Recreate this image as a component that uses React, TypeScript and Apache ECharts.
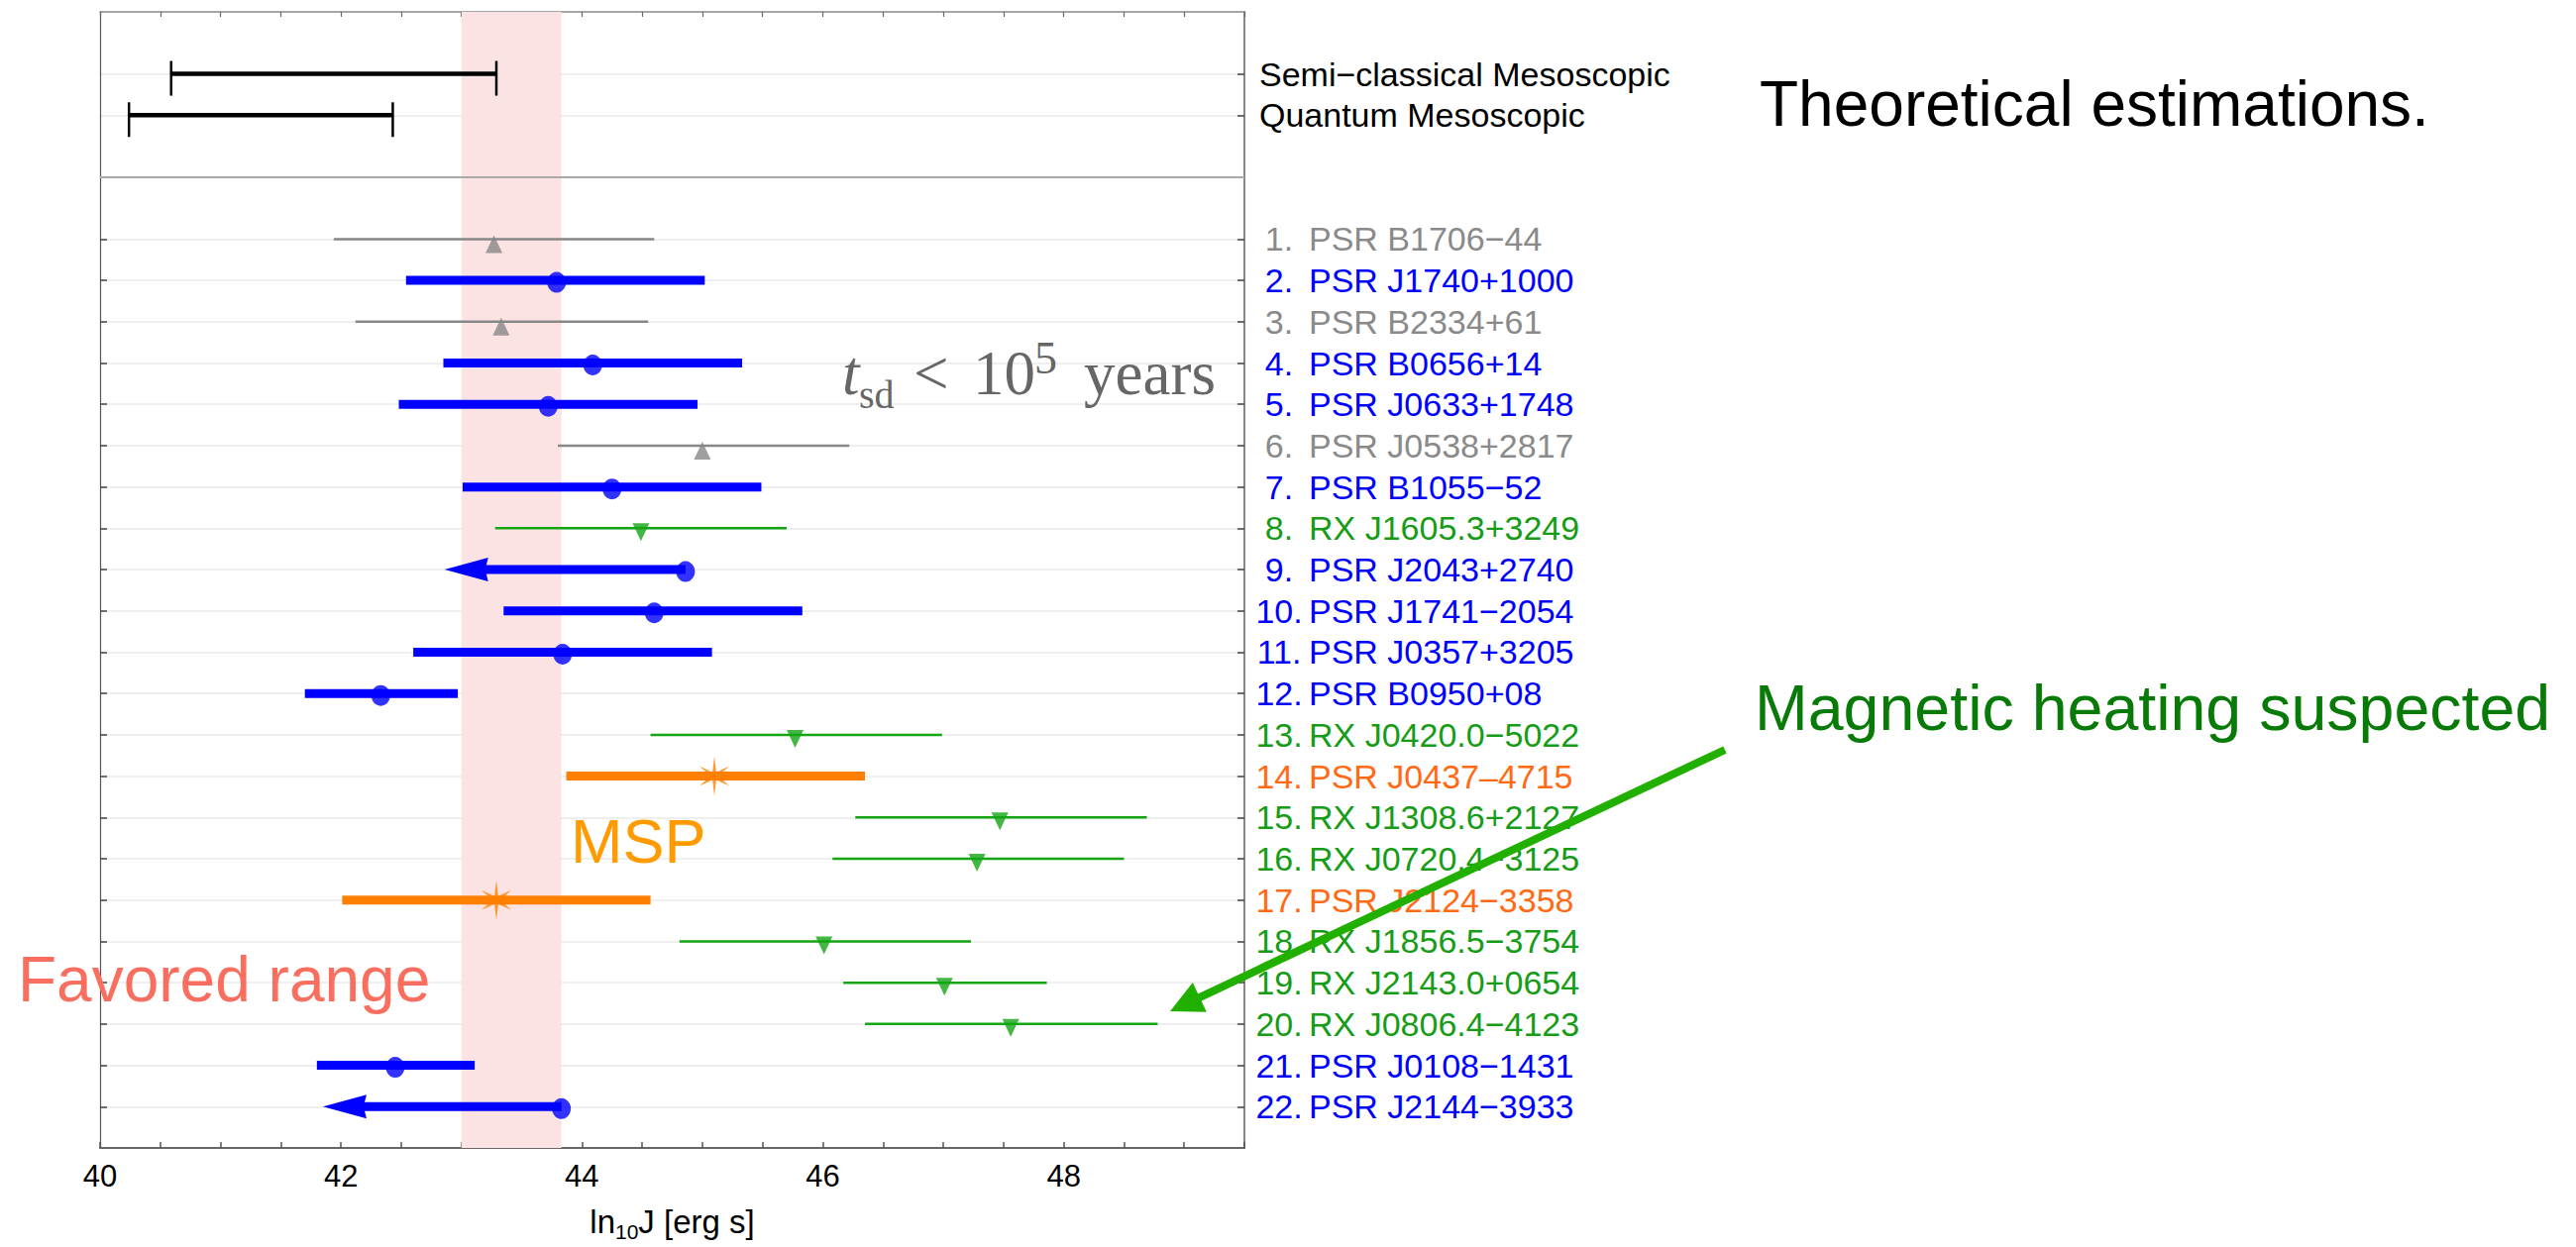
import React, { useEffect, useRef } from 'react';
import * as echarts from 'echarts';

// ---------------- data ----------------
const sourceNames = [
  'PSR B1706−44', 'PSR J1740+1000', 'PSR B2334+61', 'PSR B0656+14', 'PSR J0633+1748',
  'PSR J0538+2817', 'PSR B1055−52', 'RX J1605.3+3249', 'PSR J2043+2740', 'PSR J1741−2054',
  'PSR J0357+3205', 'PSR B0950+08', 'RX J0420.0−5022', 'PSR J0437–4715', 'RX J1308.6+2127',
  'RX J0720.4−3125', 'PSR J2124−3358', 'RX J1856.5−3754', 'RX J2143.0+0654', 'RX J0806.4−4123',
  'PSR J0108−1431', 'PSR J2144−3933',
];
const sourceGroups = [
  'gray', 'blue', 'gray', 'blue', 'blue', 'gray', 'blue', 'green', 'blue', 'blue',
  'blue', 'blue', 'green', 'orange', 'green', 'green', 'orange', 'green', 'green', 'green',
  'blue', 'blue',
];
const jCenter = [43.27, 43.79, 43.33, 44.09, 43.72, 45.0, 44.25, 44.49, 44.86, 44.6, 43.84, 42.33, 45.77, 45.1, 47.47, 47.28, 43.29, 46.01, 47.01, 47.56, 42.45, 43.83];
const jLow = [41.94, 42.54, 42.12, 42.85, 42.48, 43.8, 43.01, 43.28, 42.86, 43.35, 42.6, 41.7, 44.57, 43.87, 46.27, 46.08, 42.01, 44.81, 46.17, 46.35, 41.8, 41.85];
const jHigh: (number | null)[] = [44.6, 45.02, 44.55, 45.33, 44.96, 46.22, 45.49, 45.7, null, 45.83, 45.08, 42.97, 46.99, 46.35, 48.69, 48.5, 44.57, 47.23, 47.86, 48.78, 43.11, null];
const upperLimit = [false, false, false, false, false, false, false, false, true, false, false, false, false, false, false, false, false, false, false, false, false, true];

const theoryNames = ['Semi−classical Mesoscopic', 'Quantum Mesoscopic'];
const theoryLow = [40.59, 40.24];
const theoryHigh = [43.29, 42.43];

const favoredRange = [43.0, 43.83];
const xTickLabels = [40, 42, 44, 46, 48];

// ---------------- styles ----------------
const FONT = 'Liberation Sans, Arial, Helvetica, sans-serif';
const SERIF = 'Liberation Serif, Times New Roman, serif';
const GROUP_KEYS = ['gray', 'blue', 'green', 'orange'];
const GROUP_STYLE: Record<string, { line: string; width: number; label: string }> = {
  gray: { line: '#878787', width: 2.5, label: '#8a8a8a' },
  blue: { line: '#0000ff', width: 9, label: '#0000ff' },
  green: { line: '#14a514', width: 2.5, label: '#169c16' },
  orange: { line: '#ff8000', width: 9, label: '#ff6a14' },
};
const LABEL_SIZE = 34;

function starPath(R: number, r: number) {
  const pts: string[] = [];
  for (let k = 0; k < 12; k++) {
    const a = ((-90 + k * 30) * Math.PI) / 180;
    const rad = k % 2 === 0 ? R : r;
    pts.push(`${(rad * Math.cos(a)).toFixed(2)},${(rad * Math.sin(a)).toFixed(2)}`);
  }
  return 'path://M' + pts.join('L') + 'Z';
}
const STAR = starPath(20, 4.5);
const DOWN_TRI = 'path://M0,0L20,0L10,20Z';

const theoryRows = theoryNames.map((_, i) => i - 3);
const sourceRows = sourceNames.map((_, i) => i + 1);
const allRows = [...theoryRows, ...sourceRows];

export default function App() {
  const ref = useRef<HTMLDivElement>(null);
  useEffect(() => {
    if (!ref.current) return;
    const chart = echarts.init(ref.current, null, { renderer: 'svg' });

    const rich: Record<string, any> = {
      k: { color: '#000', fontSize: LABEL_SIZE, fontFamily: FONT },
    };
    GROUP_KEYS.forEach((g) => {
      rich['n' + g] = { color: GROUP_STYLE[g].label, fontSize: LABEL_SIZE, fontFamily: FONT, width: 40, align: 'center' };
      rich['t' + g] = { color: GROUP_STYLE[g].label, fontSize: LABEL_SIZE, fontFamily: FONT, padding: [0, 0, 0, 10] };
    });

    const rowLabel = (v: number) => {
      const i = Math.round(v);
      const ti = theoryRows.indexOf(i);
      if (ti >= 0) return `{k|${theoryNames[ti]}}`;
      const si = i - 1;
      if (si < 0 || si >= sourceNames.length) return '';
      const g = sourceGroups[si];
      return `{n${g}|${i}.}{t${g}|${sourceNames[si]}}`;
    };

    const barData = sourceNames.map((_, i) => [
      jLow[i],
      upperLimit[i] ? jCenter[i] : (jHigh[i] as number),
      sourceRows[i],
      GROUP_KEYS.indexOf(sourceGroups[i]),
      upperLimit[i] ? 1 : 0,
    ]);
    const theoryData = theoryNames.map((_, i) => [theoryLow[i], theoryHigh[i], theoryRows[i]]);

    const markerData = (g: string) =>
      sourceNames.map((_, i) => i).filter((i) => sourceGroups[i] === g).map((i) => [jCenter[i], sourceRows[i]]);

    // green annotation arrow geometry (pixel annotation)
    const aStart = [1741, 757];
    const aTip = [1181, 1021];
    const dx = aTip[0] - aStart[0];
    const dy = aTip[1] - aStart[1];
    const len = Math.hypot(dx, dy);
    const ux = dx / len, uy = dy / len;
    const headL = 33, headH = 16.5;
    const bx = aTip[0] - ux * headL, by = aTip[1] - uy * headL;
    const nx = -uy, ny = ux;

    const option: any = {
      animation: false,
      backgroundColor: '#fff',
      grid: { left: 101, right: 1344, top: 12, bottom: 96, containLabel: false },
      xAxis: [
        {
          type: 'value', position: 'bottom', min: 40, max: 49.5, interval: 0.5,
          axisLine: { show: true, onZero: false, lineStyle: { color: '#666', width: 2 } },
          axisTick: { show: true, inside: true, length: 6, lineStyle: { color: '#555', width: 1.5 } },
          axisLabel: {
            show: true, margin: 13, fontSize: 31, fontFamily: FONT, color: '#000',
            formatter: (v: number) => (xTickLabels.includes(v) ? String(v) : ''),
          },
          splitLine: { show: false },
          name: '{a|ln}{s|10}{a|J [erg s]}',
          nameLocation: 'middle', nameGap: 53,
          nameTextStyle: {
            rich: {
              a: { fontSize: 33, fontFamily: FONT, color: '#000', lineHeight: 42 },
              s: { fontSize: 21, fontFamily: FONT, color: '#000', lineHeight: 18, verticalAlign: 'bottom' },
            },
          },
        },
        {
          type: 'value', position: 'top', min: 40, max: 49.5, interval: 0.5,
          axisLine: { show: true, onZero: false, lineStyle: { color: '#888', width: 1.5 } },
          axisTick: { show: true, inside: true, length: 5, lineStyle: { color: '#666', width: 1.2 } },
          axisLabel: { show: false },
          splitLine: { show: false },
        },
      ],
      yAxis: [
        {
          type: 'value', position: 'right', min: -4.5, max: 23, inverse: true,
          axisLine: { show: true, onZero: false, lineStyle: { color: '#888', width: 2 } },
          axisTick: { show: true, inside: true, length: 7, customValues: allRows, lineStyle: { color: '#444', width: 1.5 } },
          axisLabel: { show: true, customValues: allRows, margin: 15, formatter: rowLabel, rich },
          splitLine: { show: true, lineStyle: { color: '#efefef', width: 2 } },
        },
        {
          type: 'value', position: 'left', min: -4.5, max: 23, inverse: true,
          axisLine: { show: true, onZero: false, lineStyle: { color: '#555', width: 1.2 } },
          axisTick: { show: true, inside: true, length: 7, customValues: sourceRows, lineStyle: { color: '#444', width: 1.5 } },
          axisLabel: { show: false },
          splitLine: { show: false },
        },
      ],
      series: [
        {
          type: 'line', data: [], z: 1, silent: true,
          markArea: {
            silent: true,
            itemStyle: { color: '#fce3e3' },
            data: [[{ xAxis: favoredRange[0] }, { xAxis: favoredRange[1] }]],
          },
          markLine: {
            silent: true, symbol: ['none', 'none'],
            label: { show: false },
            lineStyle: { color: '#a9a9a9', width: 2, type: 'solid' },
            data: [{ yAxis: -0.5 }],
          },
        },
        {
          type: 'custom', name: 'theory', z: 3,
          encode: { x: [0, 1], y: 2 },
          data: theoryData,
          renderItem: (params: any, api: any) => {
            const a = api.coord([api.value(0), api.value(2)]);
            const b = api.coord([api.value(1), api.value(2)]);
            const cap = (x: number, y: number) => ({
              type: 'line', shape: { x1: x, y1: y - 13, x2: x, y2: y + 22 },
              style: { stroke: '#000', lineWidth: 2.5 },
            });
            return {
              type: 'group',
              children: [
                { type: 'line', shape: { x1: a[0], y1: a[1], x2: b[0], y2: b[1] }, style: { stroke: '#000', lineWidth: 4.5 } },
                cap(a[0], a[1]),
                cap(b[0], b[1]),
              ],
            };
          },
        },
        {
          type: 'custom', name: 'bars', z: 3,
          encode: { x: [0, 1], y: 2 },
          data: barData,
          renderItem: (params: any, api: any) => {
            const a = api.coord([api.value(0), api.value(2)]);
            const b = api.coord([api.value(1), api.value(2)]);
            const st = GROUP_STYLE[GROUP_KEYS[api.value(3)]];
            if (api.value(4) !== 1) {
              return {
                type: 'line', shape: { x1: a[0], y1: a[1], x2: b[0], y2: b[1] },
                style: { stroke: st.line, lineWidth: st.width, lineCap: 'butt' },
              };
            }
            const L = 44, H = 12;
            return {
              type: 'group',
              children: [
                { type: 'line', shape: { x1: a[0] + L - 4, y1: a[1], x2: b[0], y2: b[1] }, style: { stroke: st.line, lineWidth: st.width } },
                {
                  type: 'polygon',
                  shape: { points: [[a[0], a[1]], [a[0] + L, a[1] - H], [a[0] + L - 3, a[1]], [a[0] + L, a[1] + H]] },
                  style: { fill: st.line },
                },
              ],
            };
          },
        },
        {
          type: 'scatter', name: 'blue', z: 4, symbol: 'circle', symbolSize: [19, 21], symbolOffset: [0, 2],
          itemStyle: { color: GROUP_STYLE.blue.line }, data: markerData('blue'),
        },
        {
          type: 'scatter', name: 'gray', z: 4, symbol: 'triangle', symbolSize: [17, 18], symbolOffset: [0, 5],
          itemStyle: { color: GROUP_STYLE.gray.line }, data: markerData('gray'),
        },
        {
          type: 'scatter', name: 'green', z: 4, symbol: DOWN_TRI, symbolSize: [17, 18], symbolOffset: [0, 4],
          itemStyle: { color: GROUP_STYLE.green.line }, data: markerData('green'),
        },
        {
          type: 'scatter', name: 'orange', z: 4, symbol: STAR, symbolSize: [30, 40],
          itemStyle: { color: GROUP_STYLE.orange.line }, data: markerData('orange'),
        },
      ],
      graphic: [
        { type: 'text', z: 50, style: { text: 'Theoretical estimations.', x: 1776, y: 105, fill: '#000', fontSize: 64, fontFamily: FONT, textVerticalAlign: 'middle', verticalAlign: 'middle' } },
        { type: 'text', z: 50, style: { text: 'Magnetic heating suspected', x: 1771, y: 715, fill: '#077a07', fontSize: 64.5, fontFamily: FONT, textVerticalAlign: 'middle', verticalAlign: 'middle' } },
        { type: 'text', z: 50, style: { text: 'Favored range', x: 18, y: 989, fill: '#fa6e5f', fontSize: 64, fontFamily: FONT, textVerticalAlign: 'middle', verticalAlign: 'middle' } },
        { type: 'text', z: 50, style: { text: 'MSP', x: 576, y: 849, fill: '#ff9a00', fontSize: 63, fontFamily: FONT, textVerticalAlign: 'middle', verticalAlign: 'middle' } },
        { type: 'text', z: 50, style: { text: 't', x: 850, y: 377, fill: '#666', fontSize: 63, fontStyle: 'italic', fontFamily: SERIF, textVerticalAlign: 'middle', verticalAlign: 'middle' } },
        { type: 'text', z: 50, style: { text: 'sd', x: 867, y: 398.5, fill: '#666', fontSize: 40, fontFamily: SERIF, textVerticalAlign: 'middle', verticalAlign: 'middle' } },
        { type: 'text', z: 50, style: { text: '<', x: 922, y: 377, fill: '#666', fontSize: 63, fontFamily: SERIF, textVerticalAlign: 'middle', verticalAlign: 'middle' } },
        { type: 'text', z: 50, style: { text: '10', x: 982, y: 377, fill: '#666', fontSize: 63, fontFamily: SERIF, textVerticalAlign: 'middle', verticalAlign: 'middle' } },
        { type: 'text', z: 50, style: { text: '5', x: 1044, y: 361.5, fill: '#666', fontSize: 46, fontFamily: SERIF, textVerticalAlign: 'middle', verticalAlign: 'middle' } },
        { type: 'text', z: 50, style: { text: 'years', x: 1094, y: 377, fill: '#666', fontSize: 63, fontFamily: SERIF, textVerticalAlign: 'middle', verticalAlign: 'middle' } },
        {
          type: 'line', z: 60,
          shape: { x1: aStart[0], y1: aStart[1], x2: bx + ux * 2, y2: by + uy * 2 },
          style: { stroke: '#22b000', lineWidth: 8 },
        },
        {
          type: 'polygon', z: 60,
          shape: { points: [[aTip[0], aTip[1]], [bx + nx * headH, by + ny * headH], [bx - nx * headH, by - ny * headH]] },
          style: { fill: '#22b000' },
        },
      ],
    };

    chart.setOption(option);
    return () => chart.dispose();
  }, []);

  return (
    <div
      ref={ref}
      style={{ position: 'absolute', left: 0, top: 0, width: 2600, height: 1259, background: '#fff' }}
    />
  );
}
